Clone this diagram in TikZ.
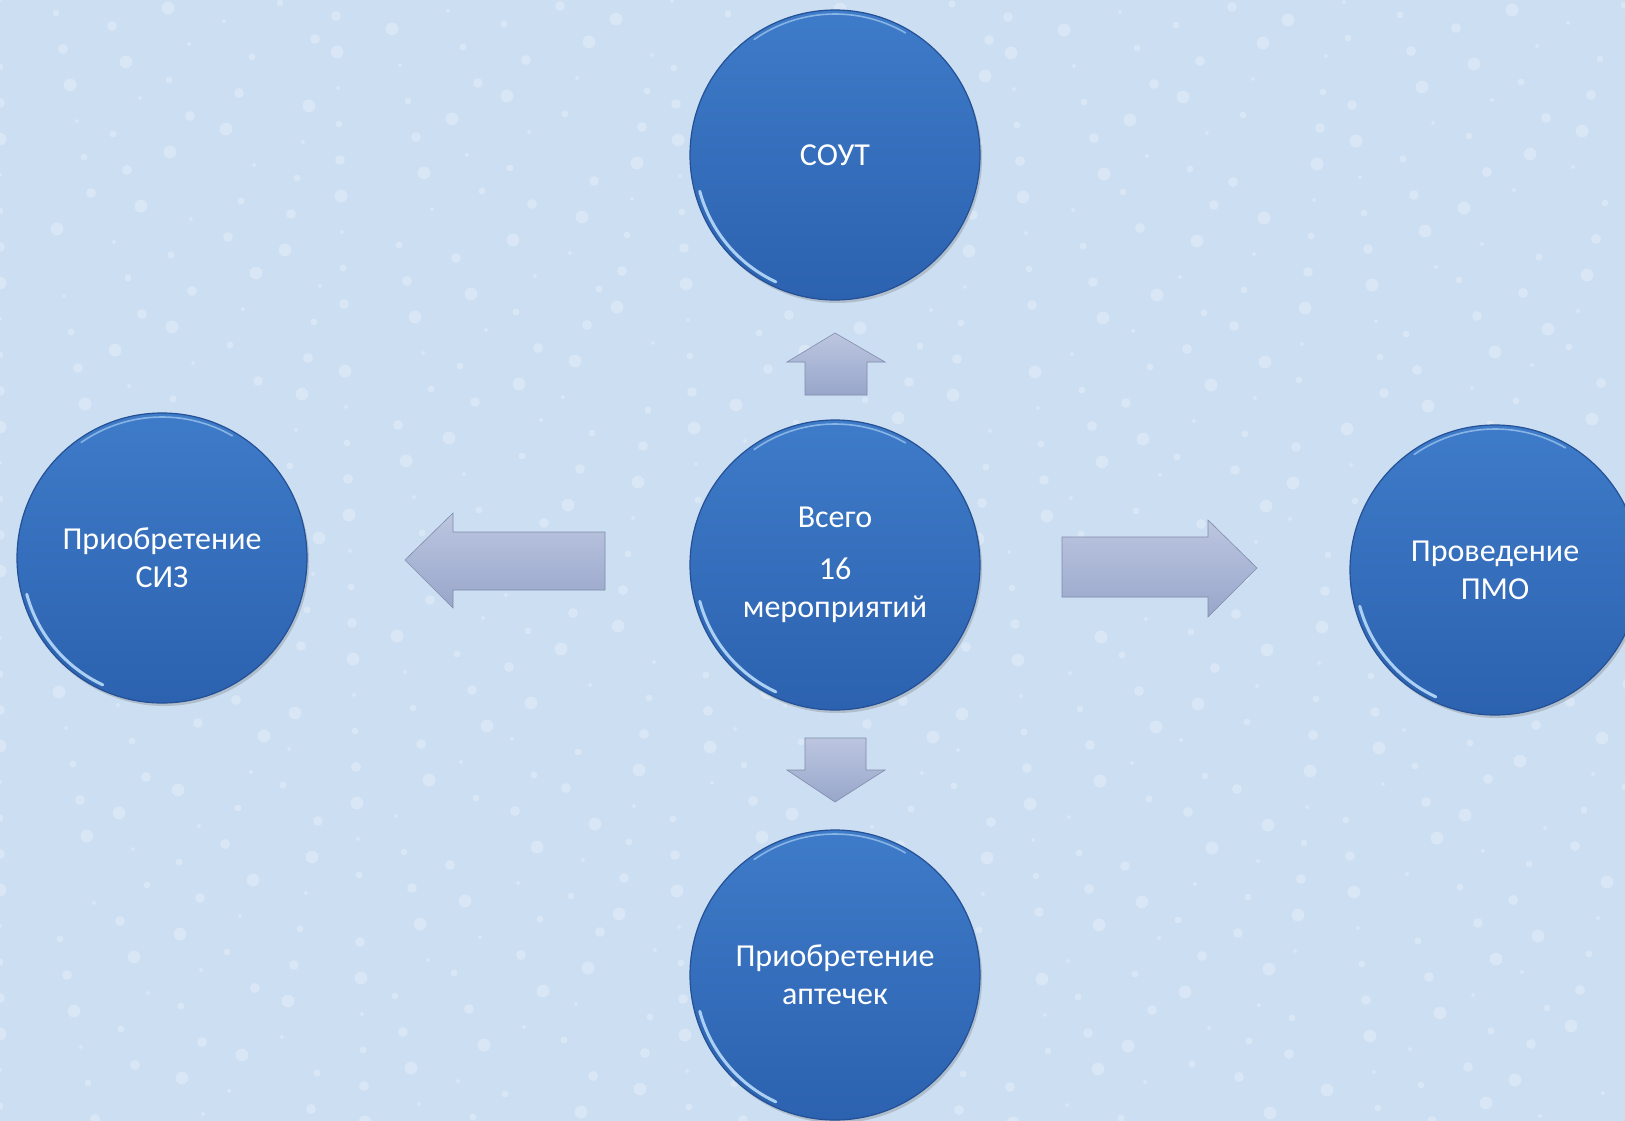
\documentclass[tikz,border=0pt]{standalone}
\usepackage{fontspec}
\setmainfont{Carlito}
\usetikzlibrary{shadows}
\definecolor{bgblue}{RGB}{203,222,242}
\definecolor{bgtex}{RGB}{232,240,250}
\definecolor{ballTop}{RGB}{62,123,200}
\definecolor{ballBot}{RGB}{44,98,176}
\definecolor{ballEdge}{RGB}{36,80,150}
\definecolor{rim}{RGB}{185,220,250}
\definecolor{arrTop}{RGB}{188,198,224}
\definecolor{arrBot}{RGB}{152,166,202}
\definecolor{arrEdge}{RGB}{130,140,170}
\tikzset{
  ball/.style={circle, minimum size=290pt, inner sep=0pt, top color=ballTop, bottom color=ballBot,
    draw=ballEdge, line width=1.2pt, text=white, font=\fontsize{32}{38}\selectfont, align=center,
    drop shadow={shadow xshift=2pt, shadow yshift=-3pt, opacity=0.35}},
  blockarrow/.style={top color=arrTop, bottom color=arrBot, draw=arrEdge, line width=0.6pt},
  rimline/.style={draw=rim, line width=3pt, line cap=round, opacity=0.9}
}
\begin{document}
\begin{tikzpicture}[x=1pt,y=-1pt]
\useasboundingbox (0,0) rectangle (1625,1121);
\fill[bgblue] (0,0) rectangle (1625,1121);
% light texture specks
\foreach \a in {0,...,29}{
  \foreach \b in {0,...,29}{
    \pgfmathsetmacro{\px}{\a*56+mod(\a*\b*7,41)}
    \pgfmathsetmacro{\py}{\b*38+mod(\a*13+\b*29,31)}
    \pgfmathsetmacro{\pr}{2+mod(\a+\b,4)*1.5}
    \fill[bgtex, opacity=0.45] (\px,\py) circle[radius=\pr];
  }
}
% circles
\node[ball] (sout) at (835,155) {СОУТ};
\node[ball] (center) at (835,565) {Всего\\[14pt]16\\мероприятий};
\node[ball] (siz) at (162,558) {Приобретение\\СИЗ};
\node[ball] (pmo) at (1495,570) {Проведение\\ПМО};
\node[ball] (apt) at (835,975) {Приобретение\\аптечек};
% rim highlights
\foreach \n in {sout,center,siz,pmo,apt}{
  \draw[rimline] ([shift={(115:140)}]\n.center) arc[start angle=115, end angle=165, radius=140];
  \draw[rimline, line width=1.6pt, opacity=0.6] ([shift={(235:141)}]\n.center) arc[start angle=235, end angle=300, radius=141];
}
% block arrows
\draw[blockarrow] (805,395) -- (805,362) -- (787,362) -- (835,333) -- (885,362) -- (867,362) -- (867,395) -- cycle;
\draw[blockarrow] (805,738) -- (866,738) -- (866,770) -- (885,770) -- (835,802) -- (787,770) -- (805,770) -- cycle;
\draw[blockarrow] (605,532) -- (453,532) -- (453,513) -- (405,560) -- (453,608) -- (453,590) -- (605,590) -- cycle;
\draw[blockarrow] (1062,537) -- (1208,537) -- (1208,520) -- (1257,568) -- (1208,617) -- (1208,597) -- (1062,597) -- cycle;
\end{tikzpicture}
\end{document}
